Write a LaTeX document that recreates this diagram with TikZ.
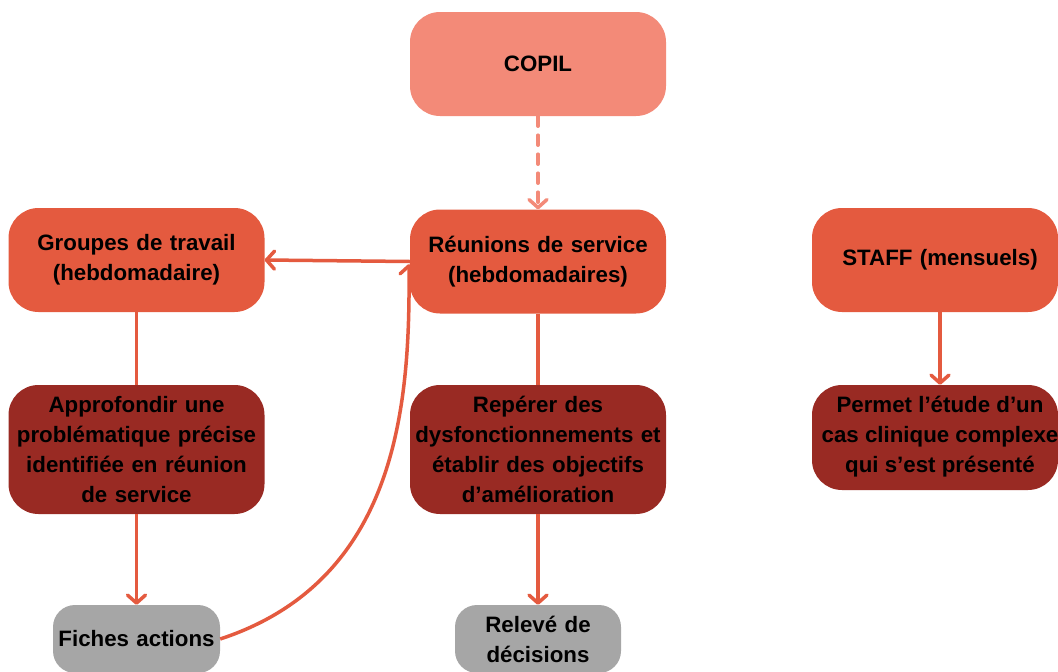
\documentclass[tikz,border=0pt]{standalone}
\usepackage{fontspec}
\setmainfont{Liberation Sans}
\usetikzlibrary{arrows.meta}
\definecolor{orangeA}{HTML}{E45A3F}
\definecolor{salmonA}{HTML}{F38A78}
\definecolor{darkA}{HTML}{992A23}
\definecolor{grayA}{HTML}{A6A6A6}
\begin{document}
\begin{tikzpicture}[x=1pt,y=-1pt,
  txt/.style={inner sep=0pt, align=center,
    font=\fontsize{22.3pt}{30pt}\selectfont\bfseries, text=black},
  box/.style={txt, rounded corners=30pt},
  topbox/.style={box, fill=orangeA, minimum width=256pt, minimum height=104pt, text width=250pt},
  copilbox/.style={box, fill=salmonA, minimum width=256pt, minimum height=104pt, text width=250pt},
  midbox/.style={box, fill=darkA, minimum width=256pt, minimum height=129pt, text width=250pt},
  endbox/.style={box, rounded corners=22pt, fill=grayA, minimum width=167pt, minimum height=68pt, text width=160pt},
  conn/.style={draw=orangeA, line width=3.5pt},
  arr/.style={conn, -{Straight Barb[length=8pt,width=18pt,line cap=round,line join=round]}},
  dasharr/.style={draw=salmonA, line width=3.5pt, line cap=round, dash pattern=on 10pt off 9pt,
    -{Straight Barb[length=8pt,width=18pt,line cap=round,line join=round]}}
]
\useasboundingbox (0,0) rectangle (1058,672);
\clip (0,0) rectangle (1058,672);

\node[copilbox] (copil) at (538,64) {COPIL};
\node[topbox] (reu) at (538,261.5) {Réunions de service\\(hebdomadaires)};
\node[topbox] (grp) at (136.5,260) {Groupes de travail\\(hebdomadaire)};
\node[topbox, minimum width=246pt, text width=240pt] (staff) at (935,260) {\hspace*{10pt}STAFF (mensuels)};

\node[midbox] (appro) at (136.5,449.5) {Approfondir une\\problématique précise\\identifiée en réunion\\de service};
\node[midbox] (rep) at (538,449.5) {Repérer des\\dysfonctionnements et\\établir des objectifs\\d’amélioration};
\node[midbox, minimum width=246pt, minimum height=105pt, text width=240pt] (permet) at (935,437.5) {};
\node[txt] (permettxt) at (940,437) {Permet l’étude d’un\\cas clinique complexe\\qui s’est présenté};

\node[endbox] (fiches) at (136.5,639) {Fiches actions};
\node[endbox, minimum width=166pt] (releve) at (538,639) {Relevé de\\décisions};

\draw[dasharr] (copil.south) -- (reu.north);
\draw[arr] (reu.west) -- (grp.east);
\draw[conn] (grp.south) -- (appro.north);
\draw[arr] (appro.south) -- (fiches.north);
\draw[conn] (reu.south) -- (rep.north);
\draw[arr] (rep.south) -- (releve.north);
\draw[arr] (staff.south -| 940,0) -- (permet.north -| 940,0);
\coordinate (ret) at (409,264);
\draw[arr] (fiches.east) .. controls (400,580) and (410,400) .. (ret);
\end{tikzpicture}
\end{document}
